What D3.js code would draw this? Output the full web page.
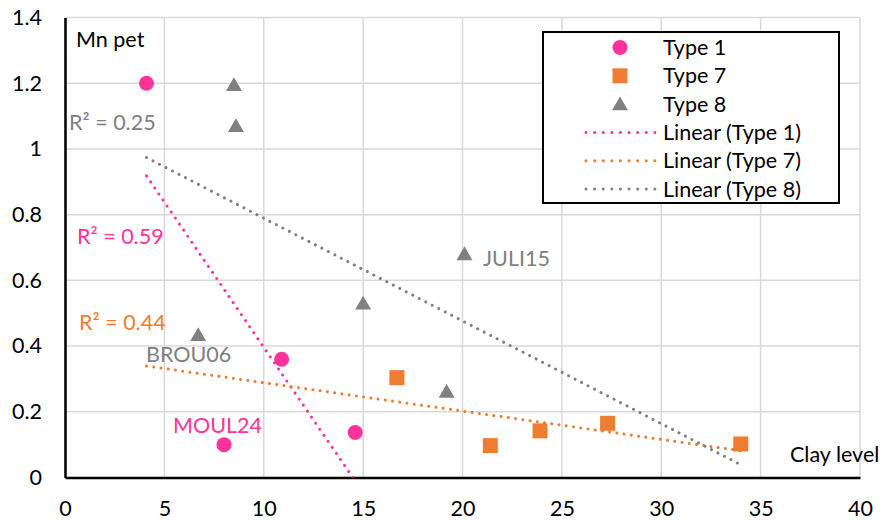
<!DOCTYPE html>
<html><head><meta charset="utf-8">
<script src="https://cdn.jsdelivr.net/npm/d3@7"></script>
<style>body{margin:0;background:#fff}svg{display:block}text{font-family:Lato,"Open Sans",sans-serif}</style>
</head><body>
<script>
// Data
const type1X = [4.1, 10.9, 8.0, 14.6];
const type1Y = [1.2, 0.36, 0.1, 0.137];
const type7X = [16.7, 21.4, 23.9, 27.3, 34.0];
const type7Y = [0.304, 0.097, 0.142, 0.165, 0.102];
const type8X = [8.5, 8.6, 6.7, 20.1, 15.0, 19.2];
const type8Y = [1.195, 1.07, 0.434, 0.68, 0.53, 0.261];
const xTicks = [0, 5, 10, 15, 20, 25, 30, 35, 40];
const yTicks = [0, 0.2, 0.4, 0.6, 0.8, 1, 1.2, 1.4];
const r2Labels = ["R² = 0.59", "R² = 0.44", "R² = 0.25"];
const pointLabels = ["MOUL24", "BROU06", "JULI15"];
const legendLabels = ["Type 1", "Type 7", "Type 8", "Linear (Type 1)", "Linear (Type 7)", "Linear (Type 8)"];

const W = 883, H = 523;
const colors = {t1: "#FF3399", t7: "#ED7D31", t8: "#808080"};
const svg = d3.select("body").append("svg").attr("width", W).attr("height", H);
const x = d3.scaleLinear().domain([0, 40]).range([65, 860]);
const y = d3.scaleLinear().domain([0, 1.4]).range([477.5, 17.5]);
const FS = 21.5;

// grid
svg.append("g").selectAll("line").data(xTicks).join("line")
  .attr("x1", d => x(d)).attr("x2", d => x(d)).attr("y1", y(0)).attr("y2", y(1.4))
  .attr("stroke", "#d9d9d9").attr("stroke-width", 1.5);
svg.append("g").selectAll("line").data(yTicks).join("line")
  .attr("x1", x(0)).attr("x2", x(40)).attr("y1", d => y(d)).attr("y2", d => y(d))
  .attr("stroke", "#d9d9d9").attr("stroke-width", 1.5);

// axes
const xAxis = svg.append("g").attr("transform", `translate(0,${y(0)})`)
  .call(d3.axisBottom(x).tickValues(xTicks).tickSize(0).tickPadding(23).tickFormat(d3.format("d")));
const yAxis = svg.append("g").attr("transform", `translate(${x(0)},0)`)
  .call(d3.axisLeft(y).tickValues(yTicks).tickSize(0).tickPadding(23).tickFormat(d => d3.format("")(+d.toFixed(1))));
[xAxis, yAxis].forEach(a => {
  a.select(".domain").attr("stroke", "#000").attr("stroke-width", 2.5);
  a.selectAll("text").attr("font-size", FS).attr("fill", "#000").style("font-family", "Lato");
});

// trendlines
const allX = type1X.concat(type7X, type8X);
const xMin = d3.min(allX), xMax = d3.max(allX);
function fit(xs, ys) {
  const mx = d3.mean(xs), my = d3.mean(ys);
  let sxy = 0, sxx = 0;
  xs.forEach((v, i) => { sxy += (v - mx) * (ys[i] - my); sxx += (v - mx) * (v - mx); });
  const b = sxy / sxx, a = my - b * mx;
  return v => a + b * v;
}
svg.append("clipPath").attr("id", "clip").append("rect")
  .attr("x", x(0)).attr("y", y(1.4)).attr("width", x(40) - x(0)).attr("height", y(0) - y(1.4));
const trend = [[type1X, type1Y, colors.t1], [type7X, type7Y, colors.t7], [type8X, type8Y, colors.t8]];
const tg = svg.append("g").attr("clip-path", "url(#clip)");
trend.forEach(([xs, ys, c]) => {
  const f = fit(xs, ys);
  tg.append("line").attr("x1", x(xMin)).attr("y1", y(f(xMin))).attr("x2", x(xMax)).attr("y2", y(f(xMax)))
    .attr("stroke", c).attr("stroke-width", 3).attr("stroke-linecap", "round").attr("stroke-dasharray", "0.01 7.3");
});

// markers
const sym = {
  t1: d3.symbol().type(d3.symbolCircle).size(Math.PI * 7.5 * 7.5),
  t7: d3.symbol().type(d3.symbolSquare).size(15 * 15),
  t8: d3.symbol().type(d3.symbolTriangle).size(110)
};
function drawPts(xs, ys, key) {
  svg.append("g").selectAll("path").data(xs).join("path")
    .attr("d", sym[key]).attr("fill", colors[key])
    .attr("transform", (d, i) => `translate(${x(d)},${y(ys[i]) + (key === "t8" ? 1.5 : 0)})`);
}
drawPts(type1X, type1Y, "t1");
drawPts(type7X, type7Y, "t7");
drawPts(type8X, type8Y, "t8");

// texts
function txt(t, px, py, c, anchor) {
  svg.append("text").attr("x", px).attr("y", py).attr("font-size", FS).attr("fill", c)
    .attr("text-anchor", anchor || "start").text(t);
}
txt("Mn pet", 76, 47, "#000");
txt("Clay level", 790, 462, "#000");
txt(r2Labels[0], 77, 244, colors.t1);
txt(r2Labels[1], 79, 330, colors.t7);
txt(r2Labels[2], 69, 130, colors.t8);
txt(pointLabels[0], 173, 433, colors.t1);
txt(pointLabels[1], 146, 362, colors.t8);
txt(pointLabels[2], 483, 266, colors.t8);

// legend
const lg = svg.append("g");
lg.append("rect").attr("x", 543).attr("y", 32).attr("width", 296).attr("height", 171)
  .attr("fill", "#fff").attr("stroke", "#000").attr("stroke-width", 2);
const keys = ["t1", "t7", "t8", "t1", "t7", "t8"];
legendLabels.forEach((t, i) => {
  const cy = 47.5 + i * 28.3;
  if (i < 3) {
    lg.append("path").attr("d", sym[keys[i]]).attr("fill", colors[keys[i]])
      .attr("transform", `translate(620,${cy + (i === 2 ? 1.5 : 0)})`);
  } else {
    lg.append("line").attr("x1", 586).attr("x2", 655).attr("y1", cy).attr("y2", cy)
      .attr("stroke", colors[keys[i]]).attr("stroke-width", 3).attr("stroke-linecap", "round")
      .attr("stroke-dasharray", "0.01 8.6");
  }
  lg.append("text").attr("x", 663).attr("y", cy + 7.5).attr("font-size", FS).attr("fill", "#000").text(t);
});
</script>
</body></html>
